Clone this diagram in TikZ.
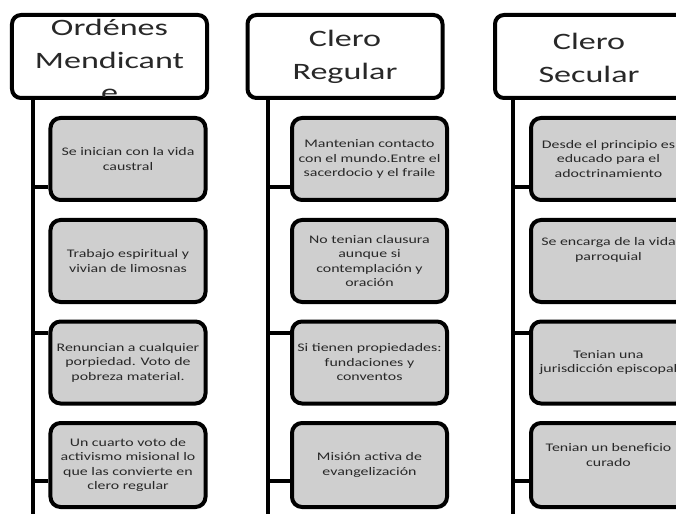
\documentclass[tikz,border=0pt]{standalone}
\usepackage{fontspec}
\setmainfont{Carlito}
\newfontfamily\headfam[FakeStretch=1.45]{Carlito}
\newfontfamily\childfam[FakeStretch=1.37]{Carlito}
\definecolor{boxfill}{RGB}{207,207,207}
\definecolor{txtcol}{RGB}{40,40,40}
\tikzset{
  head/.style={draw=black, line width=4bp, rounded corners=9bp, fill=white,
    minimum width=195bp, minimum height=83bp, inner sep=0pt},
  headtxt/.style={align=center, text=txtcol, inner sep=0pt,
    font={\headfam\fontsize{23.5bp}{32.5bp}\selectfont}},
  childbox/.style={draw=black, line width=4bp, rounded corners=10bp, fill=boxfill,
    minimum width=155bp, minimum height=82bp, inner sep=0pt},
  childtxt/.style={align=center, text=txtcol, inner sep=0pt,
    font={\childfam\fontsize{11.6bp}{14.5bp}\selectfont}},
  spine/.style={draw=black, line width=4bp},
  branch/.style={draw=black, line width=4bp}
}
\begin{document}
\begin{tikzpicture}[x=1bp, y=-1bp]
\clip (0,0) rectangle (676,514);
\fill[white] (0,0) rectangle (676,514);

% ---------- Column 1 ----------
\node[head] (h1) at (109.5,56.5) {};
\begin{scope}
  \clip (12,13) rectangle (207,97);
  \node[headtxt] (h1t) at (109.5,60) {Ordénes\\Mendicant\\e};
\end{scope}
\coordinate (s1top) at (33,98);
\coordinate (s1bot) at (33,514);
\draw[spine] (s1top) -- (s1bot);
\node[childbox] (c11) at (128,159) {};
\node[childbox] (c12) at (128,261) {};
\node[childbox] (c13) at (128,362.5) {};
\node[childbox, minimum height=84bp] (c14) at (128,465) {};
\node[childtxt] (t11) at (c11.center) {Se inician con la vida\\caustral};
\node[childtxt] (t12) at (c12.center) {Trabajo espiritual y\\vivian de limosnas};
\node[childtxt] (t13) at (c13.center) {Renuncian a cualquier\\porpiedad. Voto de\\pobreza material.};
\node[childtxt] (t14) at (c14.center) {Un cuarto voto de\\activismo misional lo\\que las convierte en\\clero regular};
\coordinate (b11) at (33,187);
\coordinate (b13) at (33,333);
\coordinate (b14) at (33,481);
\draw[branch] (b11) -- (b11 -| c11.west);
\draw[branch] (b13) -- (b13 -| c13.west);
\draw[branch] (b14) -- (b14 -| c14.west);

% ---------- Column 2 ----------
\node[head] (h2) at (345,56.5) {};
\node[headtxt] (h2t) at (345,57) {Clero\\Regular};
\coordinate (s2top) at (268,98);
\coordinate (s2bot) at (268,514);
\draw[spine] (s2top) -- (s2bot);
\node[childbox] (c21) at (369.5,159) {};
\node[childbox] (c22) at (369.5,261) {};
\node[childbox] (c23) at (369.5,362.5) {};
\node[childbox, minimum height=84bp] (c24) at (369.5,465) {};
\node[childtxt] (t21) at (c21.center) {Mantenian contacto\\con el mundo.Entre el\\sacerdocio y el fraile};
\node[childtxt] (t22) at (c22.center) {No tenian clausura\\aunque si\\contemplación y\\oración};
\node[childtxt] (t23) at (c23.center) {Si tienen propiedades:\\fundaciones y\\conventos};
\node[childtxt] (t24) at (c24.center) {Misión activa de\\evangelización};
\coordinate (b21) at (268,187);
\coordinate (b23) at (268,333);
\coordinate (b24) at (268,481);
\draw[branch] (b21) -- (b21 -| c21.west);
\draw[branch] (b23) -- (b23 -| c23.west);
\draw[branch] (b24) -- (b24 -| c24.west);

% ---------- Column 3 ----------
\node[head, minimum width=193bp] (h3) at (591.5,56.5) {};
\node[headtxt] (h3t) at (589,58) {Clero\\Secular};
\coordinate (s3top) at (513,98);
\coordinate (s3bot) at (513,514);
\draw[spine] (s3top) -- (s3bot);
\node[childbox] (c31) at (608.5,159) {};
\node[childbox] (c32) at (608.5,261) {};
\node[childbox] (c33) at (608.5,362.5) {};
\node[childbox, minimum height=84bp] (c34) at (608.5,465) {};
\node[childtxt] (t31) at (c31.center) {Desde el principio es\\educado para el\\adoctrinamiento};
\node[childtxt, yshift=11bp] (t32) at (c32.center) {Se encarga de la vida\\parroquial};
\node[childtxt] (t33) at (c33.center) {Tenian una\\jurisdicción episcopal};
\node[childtxt, yshift=10bp] (t34) at (c34.center) {Tenian un beneficio\\curado};
\coordinate (b31) at (513,187);
\coordinate (b33) at (513,333);
\coordinate (b34) at (513,481);
\draw[branch] (b31) -- (b31 -| c31.west);
\draw[branch] (b33) -- (b33 -| c33.west);
\draw[branch] (b34) -- (b34 -| c34.west);
\end{tikzpicture}
\end{document}
